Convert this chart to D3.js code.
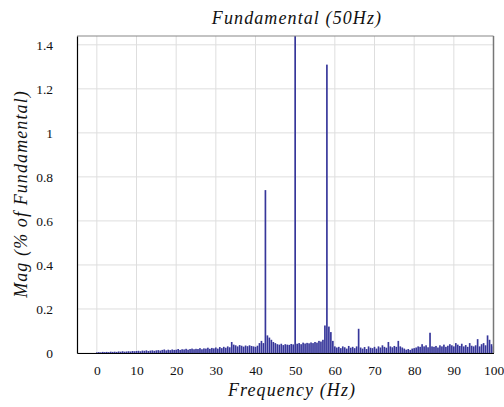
<!DOCTYPE html>
<html>
<head>
<meta charset="utf-8">
<script src="https://cdn.jsdelivr.net/npm/d3@7"></script>
<style>
  body { margin: 0; background: #fff; }
</style>
</head>
<body>
<div id="plot"></div>
<script>
// spectrum, 0.5 Hz bins from 0 to 100 Hz (magnitude in % of fundamental)
let freqStep = 0.5;
let mags = [
  0.003,0.004,0.003,0.005,0.004,0.005,0.004,0.006,0.005,0.006,
  0.005,0.007,0.006,0.008,0.006,0.007,0.008,0.007,0.009,0.008,
  0.009,0.010,0.008,0.011,0.010,0.012,0.009,0.011,0.012,0.010,
  0.012,0.013,0.011,0.014,0.016,0.012,0.015,0.013,0.016,0.014,
  0.015,0.018,0.014,0.017,0.016,0.019,0.015,0.018,0.020,0.017,
  0.019,0.018,0.022,0.017,0.021,0.020,0.024,0.019,0.023,0.021,
  0.025,0.020,0.027,0.022,0.028,0.024,0.030,0.026,0.050,0.038,
  0.035,0.030,0.036,0.033,0.029,0.034,0.031,0.035,0.032,0.030,
  0.028,0.033,0.045,0.055,0.045,0.740,0.080,0.070,0.060,0.050,
  0.045,0.040,0.038,0.042,0.036,0.040,0.038,0.037,0.041,0.039,
  100,  0.042,0.045,0.040,0.047,0.043,0.046,0.044,0.048,0.045,
  0.050,0.047,0.055,0.052,0.060,0.125,1.310,0.120,0.095,0.055,
  0.030,0.025,0.028,0.022,0.030,0.026,0.020,0.032,0.024,0.028,
  0.022,0.030,0.110,0.025,0.020,0.027,0.018,0.030,0.024,0.022,
  0.028,0.020,0.030,0.025,0.035,0.028,0.024,0.050,0.030,0.026,
  0.032,0.028,0.055,0.030,0.025,0.020,0.015,0.018,0.014,0.020,
  0.022,0.025,0.030,0.028,0.040,0.030,0.035,0.026,0.092,0.030,
  0.028,0.032,0.025,0.035,0.030,0.038,0.028,0.033,0.040,0.035,
  0.030,0.045,0.038,0.032,0.042,0.030,0.036,0.028,0.045,0.033,
  0.030,0.035,0.063,0.030,0.040,0.045,0.035,0.080,0.060,0.040,
  0.030
];
let xTicks = [0, 10, 20, 30, 40, 50, 60, 70, 80, 90, 100];
let yTicks = [0, 0.2, 0.4, 0.6, 0.8, 1, 1.2, 1.4];
let titleText = "Fundamental (50Hz)";
let xLabel = "Frequency (Hz)";
let yLabel = "Mag (% of Fundamental)";

let serif = "'Liberation Serif', 'Times New Roman', serif";

let svgWidth = 504;
let svgHeight = 407;
let margin = { top: 36, right: 10.5, bottom: 54, left: 77 };
let width = svgWidth - margin.left - margin.right;
let height = svgHeight - margin.top - margin.bottom;

let data = mags.map((m, i) => ({ f: i * freqStep, m: m }));

let x = d3.scaleLinear().domain([-5, 100]).range([0, width]);
let y = d3.scaleLinear().domain([0, 1.44]).range([height, 0]);

let svg = d3.select('#plot')
  .append('svg')
    .attr('width', svgWidth)
    .attr('height', svgHeight);

let chart = svg.append('g')
  .attr('transform', `translate(${margin.left},${margin.top})`);

svg.append('defs').append('clipPath').attr('id', 'clip')
  .append('rect').attr('width', width).attr('height', height);

// grid
chart.append('g').selectAll('line').data(xTicks).enter()
  .append('line')
    .attr('x1', d => x(d)).attr('x2', d => x(d))
    .attr('y1', 0).attr('y2', height)
    .attr('stroke', '#dedede').attr('stroke-width', 1);
chart.append('g').selectAll('line').data(yTicks).enter()
  .append('line')
    .attr('x1', 0).attr('x2', width)
    .attr('y1', d => y(d)).attr('y2', d => y(d))
    .attr('stroke', '#dedede').attr('stroke-width', 1);

// bars
let bw = x(0.42) - x(0);
chart.append('g').attr('clip-path', 'url(#clip)')
  .selectAll('rect').data(data).enter()
  .append('rect')
    .attr('x', d => x(d.f) - bw / 2)
    .attr('y', d => y(Math.min(d.m, 1.5)))
    .attr('width', bw)
    .attr('height', d => height - y(Math.min(d.m, 1.5)))
    .attr('fill', '#36369a');

// frame
chart.append('line').attr('x1', 0).attr('x2', width).attr('y1', 0).attr('y2', 0)
  .attr('stroke', '#888').attr('stroke-width', 1.2);
chart.append('line').attr('x1', width).attr('x2', width).attr('y1', 0).attr('y2', height)
  .attr('stroke', '#777').attr('stroke-width', 1.5);

let xAxis = d3.axisBottom(x).tickValues(xTicks).tickSize(0).tickPadding(12)
  .tickFormat(d3.format('~g'));
let yAxis = d3.axisLeft(y).tickValues(yTicks).tickSize(0).tickPadding(24)
  .tickFormat(d3.format('~g'));

let gx = chart.append('g')
  .attr('transform', `translate(0,${height})`)
  .call(xAxis);
let gy = chart.append('g').call(yAxis);

[gx, gy].forEach(g => {
  g.attr('font-family', serif);
  g.select('.domain').attr('stroke', '#000').attr('stroke-width', 1.2);
  g.selectAll('text')
    .attr('font-size', 13.5)
    .attr('fill', '#111');
});

function label(sel, txt) {
  return sel.append('text')
    .attr('text-anchor', 'middle')
    .attr('font-family', serif)
    .attr('font-size', 18)
    .attr('font-style', 'italic')
    .attr('letter-spacing', 1.1)
    .attr('fill', '#111')
    .text(txt);
}

label(svg, titleText).attr('x', 297).attr('y', 24);
label(svg, xLabel).attr('x', 292).attr('y', 396);
label(svg, yLabel).attr('transform', 'translate(27,194) rotate(-90)');
</script>
</body>
</html>
